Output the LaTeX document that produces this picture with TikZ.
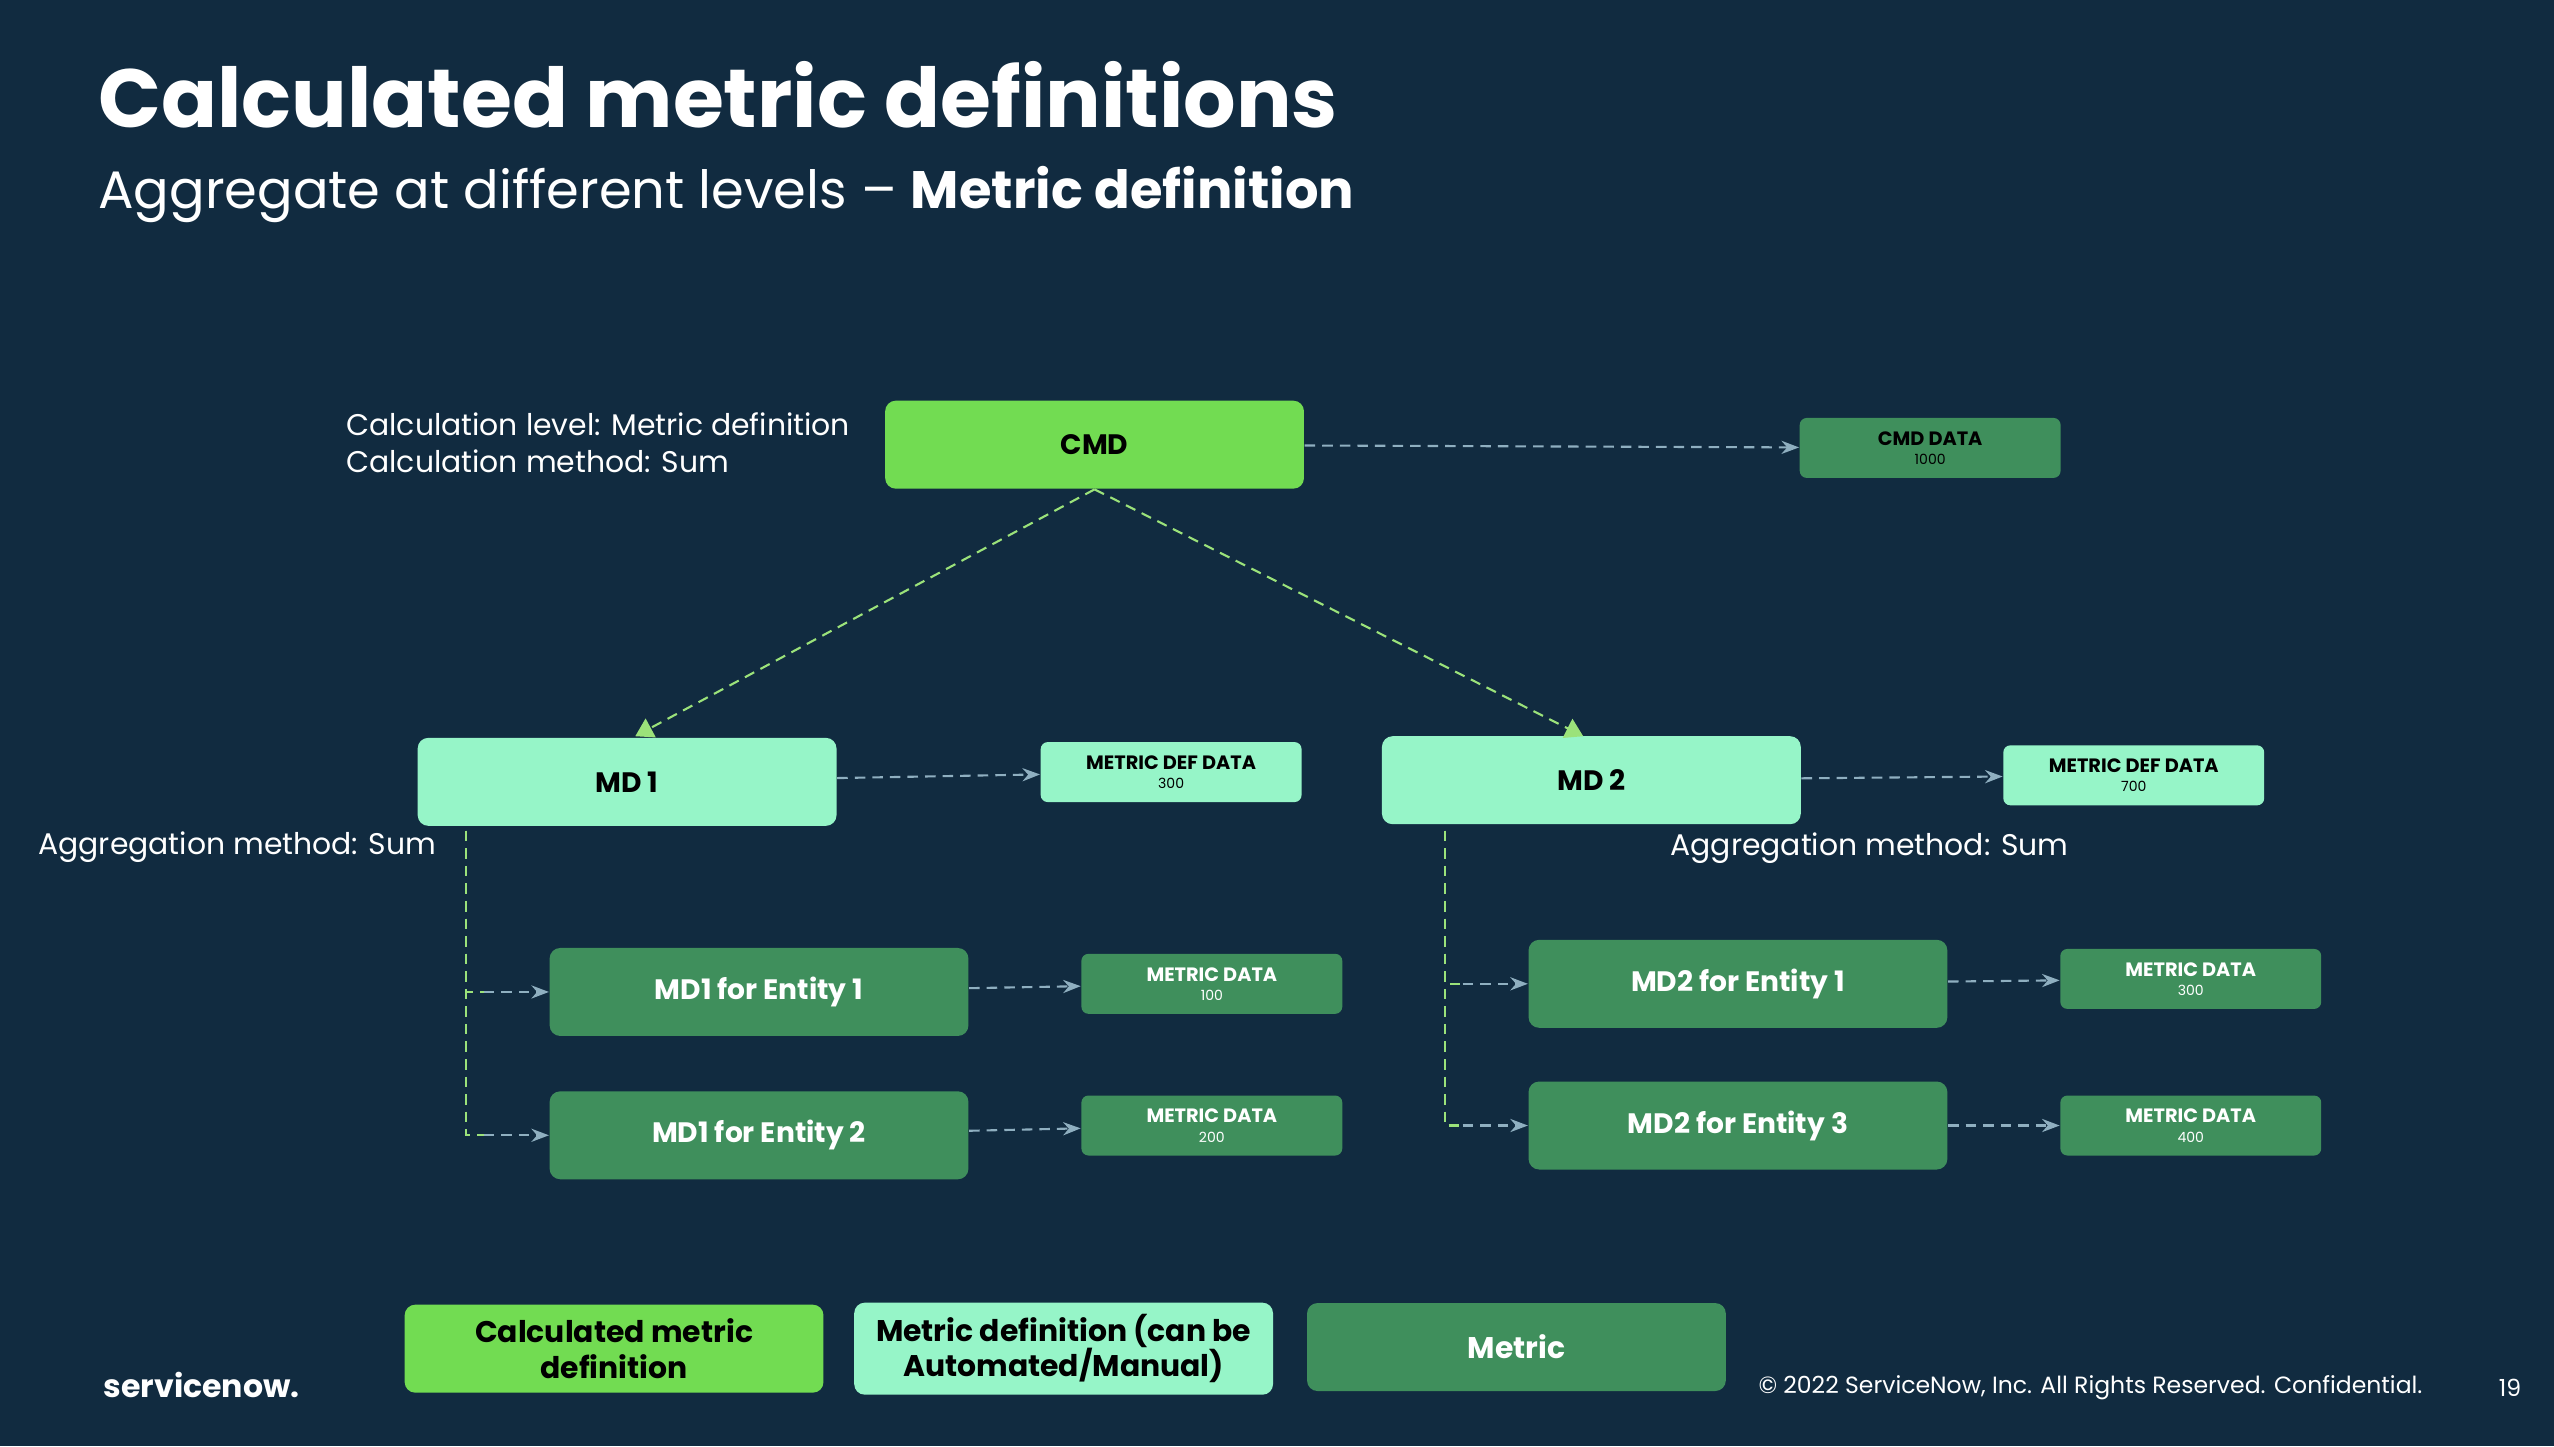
\documentclass[tikz,border=0pt]{standalone}
\usepackage{fontspec}
\setmainfont{Poppins}
\usetikzlibrary{arrows.meta,positioning,calc}
\definecolor{bgnavy}{HTML}{112B40}
\definecolor{cmdgreen}{HTML}{72DC52}
\definecolor{mdmint}{HTML}{96F5C8}
\definecolor{metgreen}{HTML}{3F8F5C}
\definecolor{linkgray}{HTML}{8FAFC0}
\definecolor{linkgreen}{HTML}{9BE27A}
\tikzset{
  big/.style={rounded corners=3pt,minimum width=4.19cm,minimum height=0.88cm,align=center,font=\fontsize{8}{10}\selectfont\bfseries},
  data/.style={rounded corners=2pt,minimum width=2.61cm,minimum height=0.60cm,align=center,inner sep=1pt,font=\fontsize{5}{5.5}\selectfont},
  link/.style={densely dashed,linkgray,line width=0.6pt,-{Stealth[length=5pt]}},
  tree/.style={densely dashed,linkgreen,line width=0.6pt},
}
\newcommand{\datalabel}[2]{{\fontsize{5.5}{5.5}\selectfont\bfseries #1}\\{\fontsize{4}{5}\selectfont #2}}
\begin{document}
\begin{tikzpicture}[x=0.01629cm,y=-0.01629cm]
\fill[bgnavy] (0,0) rectangle (1568,888);
\useasboundingbox (0,0) rectangle (1568,888);

% headings
\node[anchor=base west,white,inner sep=0,font=\fontsize{23.5}{28}\selectfont\bfseries] (title) at (60,78) {Calculated metric definitions};
\node[anchor=base west,white,inner sep=0,font=\fontsize{15}{18}\selectfont] (subtitle) at (60,128) {Aggregate at different levels -- \textbf{Metric definition}};

% top level
\node[big,fill=cmdgreen] (cmd) at (672,273) {CMD};
\node[data,fill=metgreen] (cmddata) at (1185,275) {\datalabel{CMD DATA}{1000}};
\node[anchor=west,white,align=left,font=\fontsize{8.5}{10.5}\selectfont] (calc) at (205,272) {Calculation level: Metric definition\\Calculation method: Sum};

% metric definitions
\node[big,fill=mdmint] (md1) at (385,480) {MD 1};
\node[data,fill=mdmint] (md1data) at (719,474) {\datalabel{METRIC DEF DATA}{300}};
\node[big,fill=mdmint] (md2) at (977,479) {MD 2};
\node[data,fill=mdmint] (md2data) at (1310,476) {\datalabel{METRIC DEF DATA}{700}};
\node[anchor=west,white,font=\fontsize{8.5}{10.5}\selectfont] (agg1) at (16,520) {Aggregation method: Sum};
\node[anchor=west,white,font=\fontsize{8.5}{10.5}\selectfont] (agg2) at (1018,521) {Aggregation method: Sum};

% metrics
\node[big,fill=metgreen,text=white] (e11) at (466,609) {MD1 for Entity 1};
\node[data,fill=metgreen,text=white] (e11data) at (744,604) {\datalabel{METRIC DATA}{100}};
\node[big,fill=metgreen,text=white] (e12) at (466,697) {MD1 for Entity 2};
\node[data,fill=metgreen,text=white] (e12data) at (744,691) {\datalabel{METRIC DATA}{200}};
\node[big,fill=metgreen,text=white] (e21) at (1067,604) {MD2 for Entity 1};
\node[data,fill=metgreen,text=white] (e21data) at (1345,601) {\datalabel{METRIC DATA}{300}};
\node[big,fill=metgreen,text=white] (e23) at (1067,691) {MD2 for Entity 3};
\node[data,fill=metgreen,text=white] (e23data) at (1345,691) {\datalabel{METRIC DATA}{400}};

% connectors
\draw[link] (cmd) -- (cmddata);
\draw[link] (md1) -- (md1data);
\draw[link] (md2) -- (md2data);
\draw[link] (e11) -- (e11data);
\draw[link] (e12) -- (e12data);
\draw[link] (e21) -- (e21data);
\draw[link] (e23) -- (e23data);
\coordinate (md1top) at (390,452);
\coordinate (md2top) at (972,452);
\draw[tree,-{Triangle[length=5pt,width=6pt]}] (cmd.south) -- (md1top);
\draw[tree,-{Triangle[length=5pt,width=6pt]}] (cmd.south) -- (md2top);
\coordinate (trunk1) at (286,510);
\coordinate (trunk2) at (887,510);
\draw[tree] (trunk1) |- ($(e11.west)+(-40,0)$);
\draw[tree] (trunk1) |- ($(e12.west)+(-40,0)$);
\draw[tree] (trunk2) |- ($(e21.west)+(-40,0)$);
\draw[tree] (trunk2) |- ($(e23.west)+(-40,0)$);
\draw[link] ($(e11.west)+(-40,0)$) -- (e11.west);
\draw[link] ($(e12.west)+(-40,0)$) -- (e12.west);
\draw[link] ($(e21.west)+(-40,0)$) -- (e21.west);
\draw[link] ($(e23.west)+(-40,0)$) -- (e23.west);

% legend
\node[big,fill=cmdgreen,font=\fontsize{8.5}{10}\selectfont\bfseries] (lcmd) at (377,828) {Calculated metric\\definition};
\node[big,fill=mdmint,font=\fontsize{8.5}{10}\selectfont\bfseries] (lmd) at (653,828) {Metric definition (can be\\Automated/Manual)};
\node[big,fill=metgreen,text=white,font=\fontsize{8.5}{10}\selectfont\bfseries] (lmet) at (931,827) {Metric};

% footer
\node[anchor=west,white,font=\fontsize{9}{10}\selectfont\bfseries] (logo) at (56,850) {servicenow.};
\node[anchor=west,white,font=\fontsize{6.7}{8}\selectfont] (copy) at (1072,852) {© 2022 ServiceNow, Inc. All Rights Reserved. Confidential.};
\node[white,font=\fontsize{6.7}{8}\selectfont] (page) at (1541,852) {19};
\end{tikzpicture}
\end{document}
